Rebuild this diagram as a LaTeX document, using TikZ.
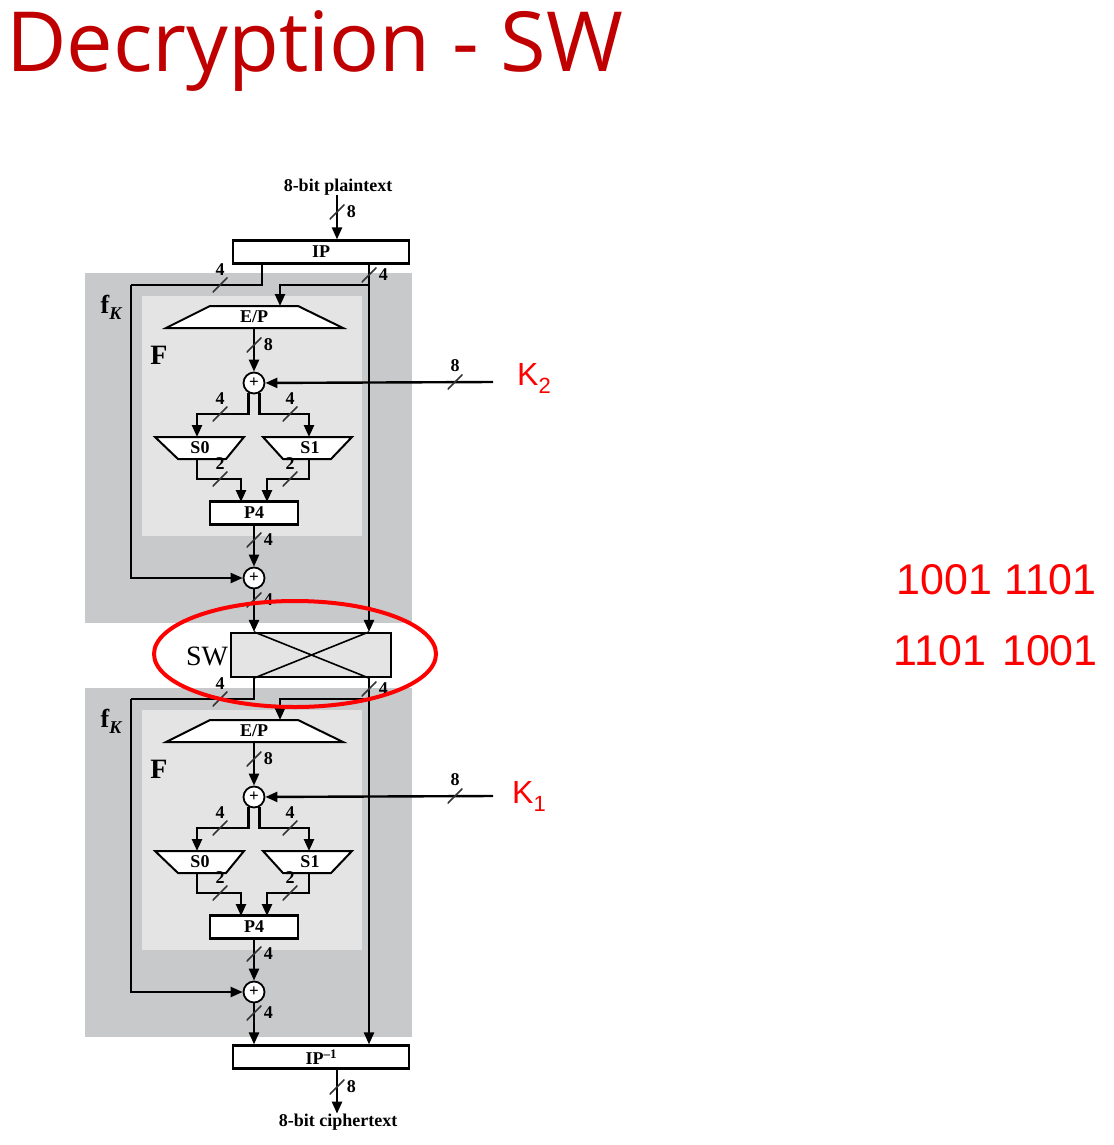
\documentclass[tikz,border=0pt]{standalone}
\usepackage{fontspec}
\setmainfont{Liberation Serif}
\newfontfamily\titlefont{Open Sans}
\newfontfamily\notefont{Liberation Sans}
\usetikzlibrary{arrows.meta,calc}
\definecolor{titlered}{HTML}{C00000}
\definecolor{notered}{HTML}{FF0000}
\definecolor{fkgray}{HTML}{C8C9CB}
\definecolor{fgray}{HTML}{E4E4E4}
\tikzset{
  wire/.style={line width=2.4pt,-{Triangle[length=12pt,width=10pt]}},
  line/.style={line width=2.4pt},
  blk/.style={draw,line width=2.2pt,fill=white,inner sep=0pt,minimum height=23pt,font=\fontsize{18}{18}\selectfont\bfseries},
  xor/.style={draw,circle,line width=1.8pt,fill=white,inner sep=0pt,minimum size=21pt,font=\fontsize{17}{17}\selectfont\bfseries},
  sbox/.style={draw,line width=2pt,fill=white},
  tick/.style={inner sep=0pt,minimum size=15pt,path picture={\draw[line width=1.6pt,black!80] (path picture bounding box.south west) -- (path picture bounding box.north east);}},
  bits/.style={font=\fontsize{18}{18}\selectfont\bfseries,inner sep=1pt,label distance=1pt},
  txt/.style={font=\fontsize{18}{18}\selectfont\bfseries,inner sep=0pt},
}
\begin{document}
\begin{tikzpicture}[x=1pt,y=-1pt]
		\useasboundingbox (0,0) rectangle (1113,1145);
		
		% Title
		\node[anchor=base west,inner sep=0pt,text=titlered,font=\titlefont\fontsize{83}{83}\selectfont] (title) at (6,72) {Decryption - SW};
		
		% Shaded rounds
		\fill[fkgray] (85,273) rectangle (412,623);
		\fill[fgray] (142,296) rectangle (362,536);
		\fill[fkgray] (85,688) rectangle (412,1037);
		\fill[fgray] (142,710) rectangle (362,950);
		\node[font=\fontsize{26}{26}\selectfont\bfseries] (fkA) at (111,307) {f\raisebox{-6pt}{\fontsize{18}{18}\selectfont\itshape K}};
		\node[font=\fontsize{28}{28}\selectfont\bfseries] (fA) at (159,355) {F};
		\node[font=\fontsize{26}{26}\selectfont\bfseries] (fkB) at (111,721) {f\raisebox{-6pt}{\fontsize{18}{18}\selectfont\itshape K}};
		\node[font=\fontsize{28}{28}\selectfont\bfseries] (fB) at (159,769) {F};
		
		% Blocks
		\node[txt] (pt) at (338,187) {8-bit plaintext};
		\node[blk,minimum width=176pt] (ip) at (321,252) {IP};
		\node[blk,minimum width=88pt] (p4A) at (254,513) {P4};
		\node[xor] (xorA) at (254,383) {+};
		\node[xor] (xorB) at (254,578) {+};
		\node[draw,line width=2.2pt,fill=fgray,minimum width=160pt,minimum height=44pt,inner sep=0pt] (sw) at (311,655) {};
		\node[font=\fontsize{28}{28}\selectfont] (swl) at (207,656) {SW};
		\node[blk,minimum width=88pt] (p4B) at (254,927) {P4};
		\node[xor] (xorC) at (254,797) {+};
		\node[xor] (xorD) at (254,992) {+};
		\node[blk,minimum width=176pt] (ipinv) at (321,1057) {IP\raisebox{6pt}{\fontsize{13}{13}\selectfont --1}};
		\node[txt] (ct) at (338,1122) {8-bit ciphertext};
		
		%Shape: E/P and S-boxes, round 1
		\draw[sbox] (210,306) -- (298,306) -- (343,328) -- (166,328) -- cycle;
		\node[txt] (epA) at (254,317) {E/P};
		\draw[sbox] (155,437) -- (244,437) -- (226,459) -- (178,459) -- cycle;
		\node[txt] (s0A) at (200,448) {S0};
		\draw[sbox] (263,437) -- (352,437) -- (331,459) -- (283,459) -- cycle;
		\node[txt] (s1A) at (310,448) {S1};
		%Shape: E/P and S-boxes, round 2
		\draw[sbox] (210,720) -- (298,720) -- (343,742) -- (166,742) -- cycle;
		\node[txt] (epB) at (254,731) {E/P};
		\draw[sbox] (155,851) -- (244,851) -- (226,873) -- (178,873) -- cycle;
		\node[txt] (s0B) at (200,862) {S0};
		\draw[sbox] (263,851) -- (352,851) -- (331,873) -- (283,873) -- cycle;
		\node[txt] (s1B) at (310,862) {S1};
		
		% Points, round 1
		\coordinate (ipL) at (262,264);
		\coordinate (ipR) at (369,264);
		\coordinate (lpA) at (131,285);
		\coordinate (brA) at (280,285);
		\coordinate (epinA) at (280,306);
		\coordinate (epoutA) at (254,328);
		\coordinate (keyA) at (493,382);
		\coordinate (s0inA) at (197,437);
		\coordinate (s1inA) at (309,437);
		\coordinate (s0outA) at (197,459);
		\coordinate (s1outA) at (309,459);
		\coordinate (p4inA0) at (241,502);
		\coordinate (p4inA1) at (267,502);
		% Points, round 2
		\coordinate (swL) at (254,677);
		\coordinate (swR) at (369,677);
		\coordinate (lpB) at (131,699);
		\coordinate (brB) at (280,699);
		\coordinate (epinB) at (280,720);
		\coordinate (epoutB) at (254,742);
		\coordinate (keyB) at (493,796);
		\coordinate (s0inB) at (197,851);
		\coordinate (s1inB) at (309,851);
		\coordinate (s0outB) at (197,873);
		\coordinate (s1outB) at (309,873);
		\coordinate (p4inB0) at (241,916);
		\coordinate (p4inB1) at (267,916);
		
		% Connectors, round 1
		\draw[wire] (pt.south -| 337,0) -- (ip.north -| 337,0);
		\draw[line] (ipL) |- (lpA);
		\draw[wire] (lpA) |- (xorB);
		\draw[wire] (ipR) -- (ipR |- sw.north);
		\draw[wire] (ipR |- brA) -- (brA) -- (epinA);
		\draw[wire] (epoutA) -- (xorA);
		\draw[wire] (keyA) -- (xorA);
		\draw[wire] (xorA.242) |- ($(s0inA)+(0,-23)$) -- (s0inA);
		\draw[wire] (xorA.298) |- ($(s1inA)+(0,-23)$) -- (s1inA);
		\draw[wire] (s0outA) |- ($(p4inA0)+(0,-23)$) -- (p4inA0);
		\draw[wire] (s1outA) |- ($(p4inA1)+(0,-23)$) -- (p4inA1);
		\draw[wire] (p4A) -- (xorB);
		\draw[wire] (xorB) -- (xorB |- sw.north);
		% Swap
		\draw[line width=1.6pt] (sw.north -| xorB) -- (sw.south -| ipR);
		\draw[line width=1.6pt] (sw.north -| ipR) -- (sw.south -| xorB);
		% Connectors, round 2
		\draw[line] (swL) |- (lpB);
		\draw[wire] (lpB) |- (xorD);
		\draw[wire] (swR) -- (swR |- ipinv.north);
		\draw[wire] (swR |- brB) -- (brB) -- (epinB);
		\draw[wire] (epoutB) -- (xorC);
		\draw[wire] (keyB) -- (xorC);
		\draw[wire] (xorC.242) |- ($(s0inB)+(0,-23)$) -- (s0inB);
		\draw[wire] (xorC.298) |- ($(s1inB)+(0,-23)$) -- (s1inB);
		\draw[wire] (s0outB) |- ($(p4inB0)+(0,-23)$) -- (p4inB0);
		\draw[wire] (s1outB) |- ($(p4inB1)+(0,-23)$) -- (p4inB1);
		\draw[wire] (p4B) -- (xorD);
		\draw[wire] (xorD) -- (xorD |- ipinv.north);
		\draw[wire] (ipinv.south -| 337,0) -- (ct.north -| 337,0);
		
		% Bit widths, round 1
		\node[tick,label={[bits]right:8}] (bw1) at (337,212) {};
		\node[tick,label={[bits]above:4}] (bw2) at (220,285) {};
		\node[tick,label={[bits]right:4}] (bw3) at (369,275) {};
		\node[tick,label={[bits]right:8}] (bw4) at (254,345) {};
		\node[tick,label={[bits]above:8}] (bw5) at (455,382) {};
		\node[tick,label={[bits]above:4}] (bw6) at (220,414) {};
		\node[tick,label={[bits]above:4}] (bw7) at (290,414) {};
		\node[tick,label={[bits]above:2}] (bw8) at (220,479) {};
		\node[tick,label={[bits]above:2}] (bw9) at (290,479) {};
		\node[tick,label={[bits]right:4}] (bw10) at (254,540) {};
		\node[tick,label={[bits]right:4}] (bw11) at (254,600) {};
		% Bit widths, round 2
		\node[tick,label={[bits]above:4}] (bw12) at (220,699) {};
		\node[tick,label={[bits]right:4}] (bw13) at (369,689) {};
		\node[tick,label={[bits]right:8}] (bw14) at (254,759) {};
		\node[tick,label={[bits]above:8}] (bw15) at (455,796) {};
		\node[tick,label={[bits]above:4}] (bw16) at (220,828) {};
		\node[tick,label={[bits]above:4}] (bw17) at (290,828) {};
		\node[tick,label={[bits]above:2}] (bw18) at (220,893) {};
		\node[tick,label={[bits]above:2}] (bw19) at (290,893) {};
		\node[tick,label={[bits]right:4}] (bw20) at (254,954) {};
		\node[tick,label={[bits]right:4}] (bw21) at (254,1013) {};
		\node[tick,label={[bits]right:8}] (bw22) at (337,1087) {};
		
		% Keys and notes
		\node[anchor=west,inner sep=0pt,text=notered,font=\notefont\fontsize{32}{32}\selectfont] (k2) at (517,378) {K\raisebox{-8pt}{\fontsize{22}{22}\selectfont 2}};
		\node[anchor=west,inner sep=0pt,text=notered,font=\notefont\fontsize{32}{32}\selectfont] (k1) at (512,796) {K\raisebox{-8pt}{\fontsize{22}{22}\selectfont 1}};
		\node[anchor=east,inner sep=0pt,text=notered,font=\notefont\fontsize{43}{43}\selectfont] (nA) at (1097,580) {1001 1101};
		\node[anchor=east,inner sep=0pt,text=notered,font=\notefont\fontsize{43}{43}\selectfont] (nB) at (1098,651) {1101\hspace{4pt} 1001};
		
		% Highlight
		\draw[notered,line width=4pt] (295,654) ellipse [x radius=141pt,y radius=53pt];
\end{tikzpicture}
\end{document}
